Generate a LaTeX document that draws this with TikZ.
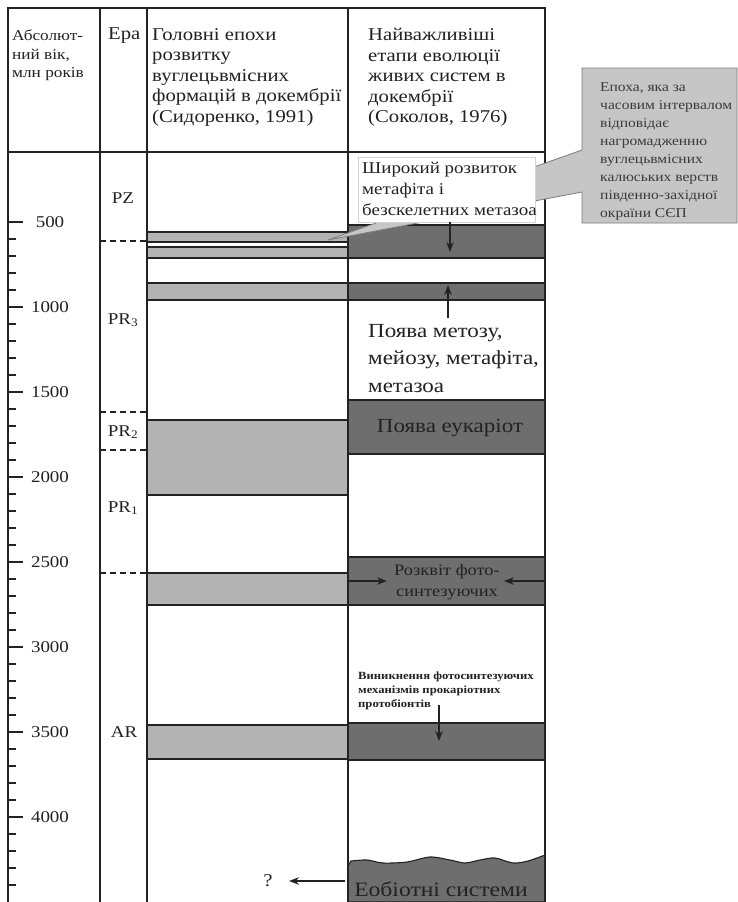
\documentclass[tikz,border=0pt]{standalone}
\usepackage{fontspec}
\setmainfont[FakeStretch=1.15]{Liberation Serif}
\usetikzlibrary{arrows.meta}
\definecolor{ln}{HTML}{222222}
\definecolor{lgray}{HTML}{B3B3B3}
\definecolor{dgray}{HTML}{6E6E6E}
\definecolor{cgray}{HTML}{C6C6C6}
\definecolor{cbord}{HTML}{7C7C7C}
\definecolor{ctext}{HTML}{3A3A3A}
\definecolor{boxb}{HTML}{D4D4D4}
\newcommand{\fs}[2]{\fontsize{#1}{#2}\selectfont}
\begin{document}
\begin{tikzpicture}[x=1pt,y=-1pt,
  tbl/.style={draw=ln,line width=1.5pt},
  lband/.style={fill=lgray,draw=ln,line width=1.1pt},
  dband/.style={fill=dgray,draw=ln,line width=1.1pt},
  arr/.style={-{Stealth[length=10pt,width=7.5pt]},line width=1.4pt,draw=ln},
  tx/.style={inner sep=0pt,text=ln},
  dsh/.style={draw=ln,line width=1.2pt,dash pattern=on 6pt off 4pt}]
\useasboundingbox (0,0) rectangle (738,902);
\fill[white] (0,0) rectangle (738,902);
% light bands (column 3)
\draw[lband] (147,232) rectangle (348,242);
\draw[lband] (147,247) rectangle (348,258);
\draw[lband] (147,283) rectangle (348,300);
\draw[lband] (147,420) rectangle (348,495);
\draw[lband] (147,573) rectangle (348,605);
\draw[lband] (147,725) rectangle (348,759);
% dark bands (column 4)
\draw[dband] (348,225) rectangle (545,258);
\draw[dband] (348,283) rectangle (545,300);
\draw[dband] (348,400) rectangle (545,454);
\draw[dband] (348,557) rectangle (545,605);
\draw[dband] (348,723) rectangle (545,760);
\draw[dband] (348,902) -- (348,866) -- plot[smooth] coordinates {(351,861) (367,860) (383,863) (407,862) (430,857) (450,860) (465,863) (480,860) (495,858) (513,863) (528,861) (545,855)} -- (545,902) -- cycle;
% table lines
\draw[tbl] (8,902) -- (8,8) -- (545,8) -- (545,902);
\draw[tbl] (8,152) -- (545,152);
\draw[tbl] (100,8) -- (100,902);
\draw[tbl] (147,8) -- (147,902);
\draw[tbl] (348,8) -- (348,902);
% ticks
\foreach \a in {500,600,...,4400}{
  \pgfmathsetmacro\yy{222+(\a-500)*0.17}
  \pgfmathsetmacro\xx{mod(\a,500)==0 ? 23 : 16}
  \draw[draw=ln,line width=1.3pt] (8,\yy) -- (\xx,\yy);
}
\foreach \a in {500,1000,...,4000}{
  \node[tx,font=\fs{16.5}{18}] (lab\a) at (50,{222+(\a-500)*0.17}) {\a};
}
% era boundaries
\draw[dsh] (100,241) -- (147,241);
\draw[dsh] (100,412) -- (147,412);
\draw[dsh] (100,450) -- (147,450);
\draw[dsh] (100,573) -- (147,573);
\node[tx,font=\fs{16.5}{18}] (pz) at (123,198) {PZ};
\node[tx,font=\fs{16.5}{18}] (pr3) at (123,320) {PR\textsubscript{3}};
\node[tx,font=\fs{16.5}{18}] (pr2) at (123,432) {PR\textsubscript{2}};
\node[tx,font=\fs{16.5}{18}] (pr1) at (123,508) {PR\textsubscript{1}};
\node[tx,font=\fs{16.5}{18}] (ar) at (124,732) {AR};
% headers
\node[tx,anchor=north west,align=left,font=\fs{15}{18.5}] (h1) at (12,30) {Абсолют-\\ний вік,\\млн років};
\node[tx,anchor=north west,align=left,font=\fs{18}{20.5}] (h2) at (108,28) {Ера};
\node[tx,anchor=north west,align=left,font=\fs{18}{20.5}] (h3) at (152,28) {Головні епохи\\розвитку\\вуглецьвмісних\\формацій в докембрії\\(Сидоренко, 1991)};
\node[tx,anchor=north west,align=left,font=\fs{18}{20.5}] (h4) at (368,28) {Найважливіші\\етапи еволюції\\живих систем в\\докембрії\\(Соколов, 1976)};
% callout
\draw[fill=cgray,draw=cbord,line width=0.8pt] (737,68) -- (582,68) -- (582,150) -- (328,240) -- (582,192) -- (582,223) -- (737,223) -- cycle;
\node[tx,text=ctext,anchor=north west,align=left,font=\fs{13.5}{18}] (callt) at (600,82) {Епоха, яка за\\часовим інтервалом\\відповідає\\нагромадженню\\вуглецьвмісних\\калюських верств\\південно-західної\\окраїни СЄП};
% text box
\draw[draw=boxb,fill=white,line width=0.8pt] (358,157) rectangle (535,222);
\node[tx,anchor=north west,align=left,font=\fs{16.5}{21}] (wide) at (362,162) {Широкий розвиток\\метафіта і\\безскелетних метазоа};
\node[tx,anchor=north west,align=left,font=\fs{20}{27.5}] (meio) at (368,324) {Поява метозу,\\мейозу, метафіта,\\метазоа};
\node[tx,font=\fs{20}{24}] (euk) at (450,428) {Поява еукаріот};
\node[tx,align=center,font=\fs{16}{21}] (photo) at (447,582) {Розквіт фото-\\синтезуючих};
\node[tx,anchor=north west,align=left,font=\bfseries\fs{11}{14}] (orig) at (358,672) {Виникнення фотосинтезуючих\\механізмів прокаріотних\\протобіонтів};
\node[tx,font=\fs{20.5}{24}] (eob) at (441,889) {Еобіотні системи};
\node[tx,font=\fs{18}{20}] (q) at (268,881) {?};
% arrows
\coordinate (a1s) at (450,222); \coordinate (a1e) at (450,252);
\coordinate (a2s) at (448,318); \coordinate (a2e) at (448,285);
\coordinate (a3s) at (348,581); \coordinate (a3e) at (387,581);
\coordinate (a4s) at (545,581); \coordinate (a4e) at (504,581);
\coordinate (a5s) at (439,705); \coordinate (a5e) at (439,741);
\coordinate (a6s) at (345,881); \coordinate (a6e) at (289,881);
\draw[arr] (a1s) -- (a1e);
\draw[arr] (a2s) -- (a2e);
\draw[arr] (a3s) -- (a3e);
\draw[arr] (a4s) -- (a4e);
\draw[arr] (a5s) -- (a5e);
\draw[arr] (a6s) -- (a6e);
\end{tikzpicture}
\end{document}
